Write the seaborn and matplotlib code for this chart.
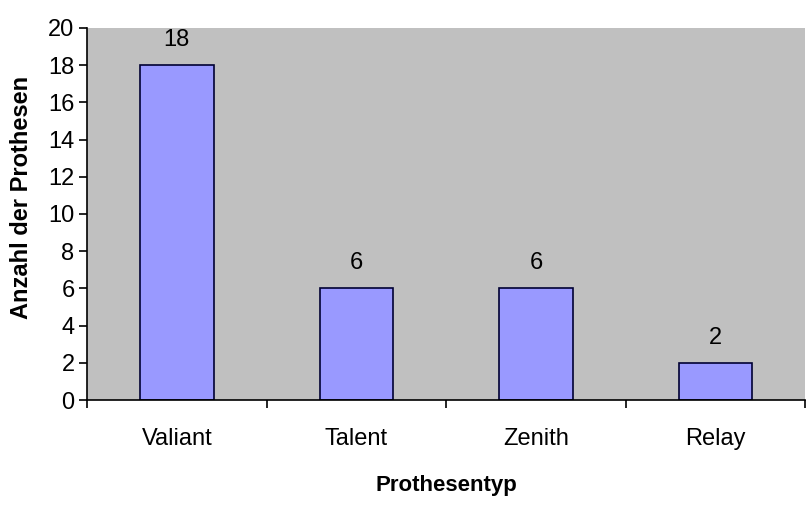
import matplotlib
matplotlib.use("Agg")
import matplotlib.pyplot as plt
import seaborn as sns
import pandas as pd
from matplotlib import font_manager

categories = ["Valiant", "Talent", "Zenith", "Relay"]
values = [18, 6, 6, 2]
yticks = [0, 2, 4, 6, 8, 10, 12, 14, 16, 18, 20]

sns.set_style("white")
names = {f.name for f in font_manager.fontManager.ttflist}
fam = ["Liberation Sans Narrow", "Liberation Sans", "DejaVu Sans"] if "Liberation Sans Narrow" in names else ["Liberation Sans", "DejaVu Sans"]
plt.rcParams['font.family'] = fam
plt.rcParams['text.color'] = 'black'
plt.rcParams['xtick.color'] = 'black'
plt.rcParams['ytick.color'] = 'black'
plt.rcParams['axes.labelcolor'] = 'black'

df = pd.DataFrame({"Prothesentyp": categories, "Anzahl": values})

fig = plt.figure(figsize=(8.06, 5.07), dpi=100)
ax = fig.add_axes([0.108, 0.211, 0.891, 0.734])
ax.set_facecolor("#C0C0C0")
sns.barplot(data=df, x="Prothesentyp", y="Anzahl", color="#9999FF", width=0.41,
            edgecolor="#000033", linewidth=1.2, saturation=1, ax=ax)
for p, v in zip(ax.patches, values):
    ax.text(p.get_x() + p.get_width() / 2, v + 0.75, str(v), ha="center", va="bottom", fontsize=17)

ax.set_xlim(-0.5, len(categories) - 0.5)
ax.set_ylim(0, 20)
ax.set_yticks(yticks)
ax.set_yticklabels([str(t) for t in yticks], fontsize=17)
ax.set_xticks(range(len(categories)))
ax.set_xticklabels(categories, fontsize=17)
ax.tick_params(axis="x", length=0, pad=20)
ax.tick_params(axis="y", length=6, width=1.2, direction="out", left=True, pad=3)
ax.set_xticks([i + 0.5 for i in range(-1, len(categories))], minor=True)
ax.tick_params(axis="x", which="minor", length=6, width=1.2, direction="out", bottom=True)

for s in ["top", "right"]:
    ax.spines[s].set_visible(False)
ax.spines["left"].set_color("black")
ax.spines["bottom"].set_color("black")
ax.spines["left"].set_linewidth(1.2)
ax.spines["bottom"].set_linewidth(1.2)

ax.set_xlabel("Prothesentyp", fontsize=16, fontweight="bold", labelpad=18)
ax.set_ylabel("Anzahl der Prothesen", fontsize=17, fontweight="bold", labelpad=12)
ax.yaxis.set_label_coords(-0.075, 0.545)

fig.savefig("out.png", dpi=100, facecolor="white")
